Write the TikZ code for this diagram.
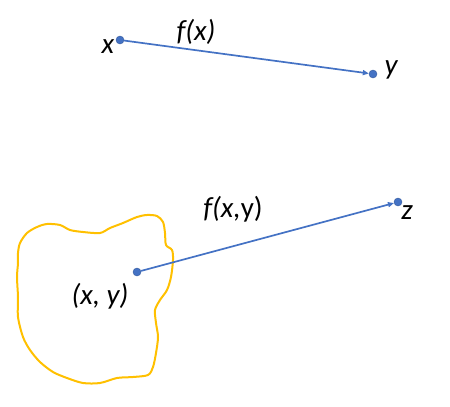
\documentclass[tikz,border=0pt]{standalone}
\usepackage{fontspec}
\setmainfont{Carlito}
\usetikzlibrary{arrows.meta}

\definecolor{dotblue}{HTML}{4472C4}
\definecolor{blobyellow}{HTML}{FFC000}

\tikzset{
    pt/.style={circle,fill=dotblue,draw=dotblue!80!black,inner sep=0pt,minimum size=8pt},
    lbl/.style={font=\fontsize{29}{31}\selectfont\itshape,inner sep=1pt},
    maparrow/.style={draw=dotblue,line width=1.7pt,-{Triangle[length=6pt,width=5pt]}}
}

\begin{document}
\begin{tikzpicture}[x=1pt,y=-1pt]
            \useasboundingbox (0,0) rectangle (450,407);
            % the set round (x,y)
            \draw [blobyellow,line width=2pt] plot [smooth cycle,tension=0.5] coordinates {
                    (18,253) (20,243) (27,233) (37,227) (47,224) (60,225) (70,230)
                    (83,232) (100,233) (110,228) (123,223) (137,217) (147,215) (157,216)
                    (163,222) (165,233) (166,245) (172,250) (173,260) (171,277) (167,290)
                    (160,300) (155,310) (156,323) (158,337) (156,353) (153,367) (148,375)
                    (133,377) (117,378) (100,383) (83,383) (67,378) (53,372) (40,362)
                    (30,350) (23,337) (18,317) (18,297) (17,277) (18,263) };
            % points
            \node [pt] (ptx) at ( 120,40 ) {};
            \node [pt] (pty) at ( 373,74 ) {};
            \node [pt] (ptxy) at ( 137,272 ) {};
            \node [pt] (ptz) at ( 398,202 ) {};
            % labels
            \node [lbl] (labx) at ( 108,47 ) {x};
            \node [lbl] (laby) at ( 391,70 ) {y};
            \node [lbl] (labxy) at ( 100,296 ) {(x, y)};
            \node [lbl] (labz) at ( 407,213 ) {z};
            \node [lbl] (labf) at ( 196,32 ) {f(x)};
            \node [lbl] (labfxy) at ( 233,209 ) {f(x,\upshape y)};
            % maps
            \draw [maparrow] (ptx) -- (pty);
            \draw [maparrow] (ptxy) -- (ptz);
        \end{tikzpicture}
\end{document}
